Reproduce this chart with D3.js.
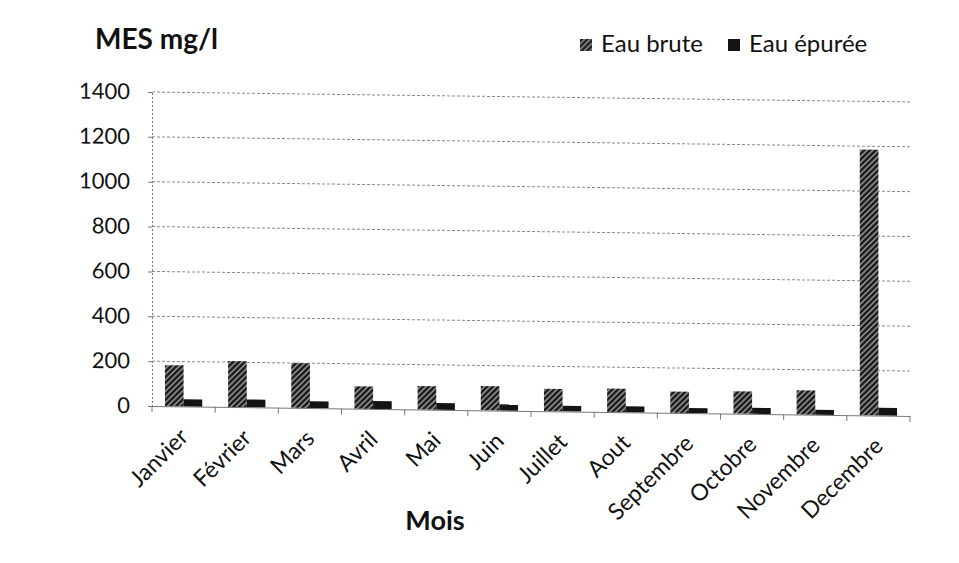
<!DOCTYPE html>
<html><head><meta charset="utf-8">
<script src="https://cdn.jsdelivr.net/npm/d3@7/dist/d3.min.js"></script>
<style>
body{margin:0;background:#fff;}
text{font-family:Lato,"Open Sans",sans-serif;fill:#111;}
</style></head>
<body><svg id="c" width="959" height="563"></svg>
<script>
const months = ["Janvier","Février","Mars","Avril","Mai","Juin","Juillet","Aout","Septembre","Octobre","Novembre","Decembre"];
const seriesNames = ["Eau brute","Eau épurée"];
const eauBrute = [183,205,200,100,105,108,100,105,95,100,108,1185];
const eauEpuree = [32,35,30,35,30,28,25,27,22,27,22,35];
const yTicks = [0,200,400,600,800,1000,1200,1400];
const colors = ["#4d4d4d","#141414"];

const svg = d3.select("#c");
const defs = svg.append("defs");
const pat = defs.append("pattern").attr("id","hatch").attr("patternUnits","userSpaceOnUse")
  .attr("width",4).attr("height",4).attr("patternTransform","rotate(45)");
pat.append("rect").attr("width",4).attr("height",4).attr("fill","#1e1e1e");
pat.append("rect").attr("width",1.6).attr("height",4).attr("fill","#8a8a8a");

const x0 = d3.scaleBand().domain(months).range([152,910]).paddingInner(0.41).paddingOuter(0.205);
const x1 = d3.scaleBand().domain(seriesNames).range([0,x0.bandwidth()]);
const y = d3.scaleLinear().domain([0,1400]).range([406,92]);

// plot group with the slight slant of the scanned original
const plot = svg.append("g").attr("transform","translate(152,0) skewY(0.75) translate(-152,0)");

// gridlines
plot.append("g").selectAll("line").data(yTicks.filter(d=>d>0)).join("line")
  .attr("x1",152).attr("x2",910).attr("y1",d=>y(d)).attr("y2",d=>y(d))
  .attr("stroke","#8c8c8c").attr("stroke-width",1).attr("stroke-dasharray","3,2");

// y axis
const ya = plot.append("g").attr("transform","translate(152,0)")
  .call(d3.axisLeft(y).tickValues(yTicks).tickFormat(d3.format("d")).tickSize(4).tickPadding(18));
ya.select(".domain").attr("stroke","#777").attr("stroke-dasharray","2,2");
ya.selectAll(".tick line").attr("stroke","#777");
ya.selectAll(".tick text").attr("font-size",22).attr("font-family","Lato,'Open Sans',sans-serif").attr("fill","#111");

// bars
const data = months.map((m,i)=>({m, vals:[eauBrute[i],eauEpuree[i]]}));
const g = plot.append("g").selectAll("g").data(data).join("g")
  .attr("transform",d=>`translate(${x0(d.m)},0)`);
g.selectAll("rect").data(d=>d.vals.map((v,j)=>({s:seriesNames[j],v,j}))).join("rect")
  .attr("x",d=>x1(d.s)).attr("width",x1.bandwidth())
  .attr("y",d=>y(d.v)).attr("height",d=>y(0)-y(d.v))
  .attr("fill",d=>d.j===0?"url(#hatch)":colors[1]);

// x axis
const xa = plot.append("g").attr("transform",`translate(0,${y(0)})`)
  .call(d3.axisBottom(x0).tickSize(0).tickFormat(""));
xa.select(".domain").attr("stroke","#777");
const step = x0.step();
plot.append("g").selectAll("line").data(d3.range(13)).join("line")
  .attr("x1",i=>152+i*step).attr("x2",i=>152+i*step)
  .attr("y1",y(0)).attr("y2",y(0)+6).attr("stroke","#777");

plot.append("g").selectAll("text").data(months).join("text")
  .attr("transform",d=>`translate(${x0(d)+x0.bandwidth()/2+6},${y(0)+32}) rotate(-45)`)
  .attr("text-anchor","end").attr("font-size",23).text(d=>d);

// titles
svg.append("text").attr("x",95).attr("y",49).attr("font-size",28).attr("font-weight","bold").text("MES mg/l");
svg.append("text").attr("x",435).attr("y",530).attr("text-anchor","middle").attr("font-size",27).attr("font-weight","bold").text("Mois");

// legend
const lg = svg.append("g").selectAll("g").data(seriesNames).join("g")
  .attr("transform",(d,i)=>`translate(${i===0?580:728},37)`);
lg.append("rect").attr("width",12).attr("height",12).attr("y",2)
  .attr("fill",(d,i)=>i===0?"url(#hatch)":colors[1]);
lg.append("text").attr("x",21).attr("y",15).attr("font-size",24).text(d=>d);
</script></body></html>
